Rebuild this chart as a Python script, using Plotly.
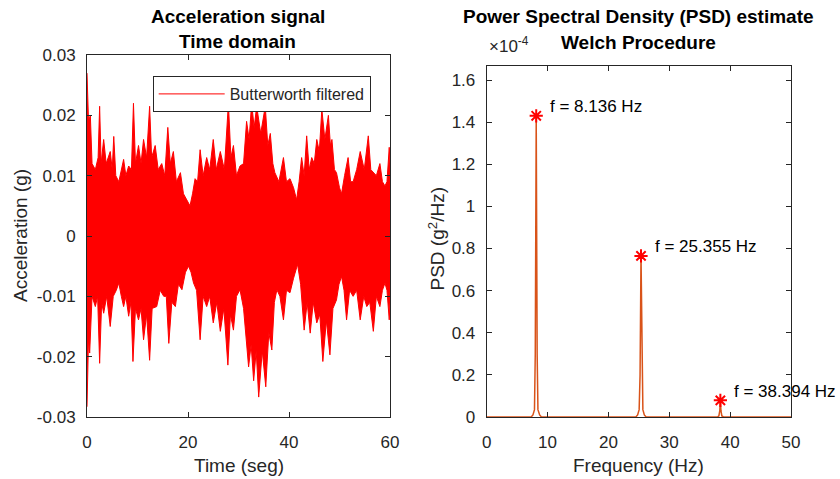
import plotly.graph_objects as go

# ---------------- data ----------------
# Time-domain signal: upper / lower envelope (peaks and dips) (s, g)
upper_env = [
    (0.0, 0.027), (0.3, 0.019), (0.66, 0.020), (1.0, 0.012), (1.65, 0.011), (2.2, 0.013),
    (2.5, 0.0215), (2.8, 0.012), (3.3, 0.016), (3.8, 0.012), (4.6, 0.014), (5.0, 0.011),
    (5.3, 0.0165), (5.7, 0.010), (6.3, 0.009), (6.8, 0.011), (7.25, 0.0127), (7.7, 0.010),
    (8.25, 0.0116), (8.8, 0.011), (9.2, 0.022), (9.6, 0.012), (10.2, 0.015), (10.7, 0.012),
    (11.2, 0.016), (11.8, 0.013), (12.4, 0.0215), (12.8, 0.013), (13.5, 0.015), (14.1, 0.011),
    (14.8, 0.012), (15.4, 0.010), (16.0, 0.018), (16.5, 0.012), (17.1, 0.014), (17.7, 0.009),
    (18.5, 0.0105), (19.1, 0.007), (19.8, 0.006), (20.4, 0.005), (20.9, 0.007), (21.4, 0.0095),
    (21.9, 0.009), (22.4, 0.0143), (23.0, 0.010), (23.7, 0.013), (24.3, 0.011), (25.0, 0.016),
    (25.6, 0.011), (26.4, 0.014), (27.2, 0.011), (28.0, 0.022), (28.5, 0.013), (29.0, 0.015),
    (29.6, 0.010), (30.3, 0.0116), (31.0, 0.012), (31.6, 0.019), (32.1, 0.016), (32.6, 0.022),
    (33.1, 0.018), (33.6, 0.0215), (34.4, 0.017), (35.3, 0.0215), (35.8, 0.015), (36.3, 0.017),
    (36.8, 0.012), (37.2, 0.0105), (38.0, 0.009), (38.9, 0.013), (39.5, 0.009), (40.2, 0.0095),
    (40.9, 0.008), (41.5, 0.006), (42.0, 0.009), (42.5, 0.013), (43.0, 0.010), (43.5, 0.0166),
    (44.0, 0.011), (44.5, 0.013), (45.0, 0.012), (45.5, 0.016), (46.0, 0.014), (46.5, 0.021),
    (47.1, 0.016), (47.8, 0.020), (48.2, 0.015), (48.5, 0.016), (49.0, 0.011), (49.4, 0.0105),
    (50.0, 0.008), (50.4, 0.007), (51.0, 0.010), (51.7, 0.013), (52.2, 0.009), (52.7, 0.009),
    (53.4, 0.011), (54.1, 0.014), (54.9, 0.011), (55.7, 0.0166), (56.2, 0.011), (56.7, 0.0105),
    (57.3, 0.010), (58.0, 0.012), (58.5, 0.009), (59.0, 0.0083), (59.4, 0.009), (59.85, 0.0147),
    (60.0, 0.012),
]
lower_env = [
    (0.0, -0.0283), (0.3, -0.017), (0.53, -0.0194), (1.0, -0.010), (1.65, -0.0117), (2.1, -0.010),
    (2.5, -0.0211), (2.9, -0.011), (3.3, -0.0128), (3.9, -0.010), (4.6, -0.015), (5.2, -0.010),
    (5.8, -0.009), (6.3, -0.0078), (6.8, -0.010), (7.25, -0.0117), (7.7, -0.010), (8.25, -0.0133),
    (8.7, -0.011), (9.1, -0.0208), (9.6, -0.012), (10.2, -0.0139), (10.7, -0.012), (11.2, -0.0172),
    (11.8, -0.013), (12.4, -0.0206), (12.9, -0.012), (13.8, -0.0117), (14.5, -0.009), (15.2, -0.010),
    (15.7, -0.010), (16.2, -0.0178), (16.8, -0.011), (17.5, -0.0117), (18.1, -0.008), (18.8, -0.0089),
    (19.5, -0.006), (20.1, -0.005), (20.6, -0.006), (21.1, -0.0078), (21.7, -0.009), (22.4, -0.0172),
    (23.0, -0.010), (23.7, -0.0117), (24.3, -0.010), (25.0, -0.0144), (25.7, -0.011), (26.4, -0.0158),
    (27.1, -0.012), (27.9, -0.0214), (28.4, -0.013), (29.0, -0.0156), (29.6, -0.010), (30.3, -0.0089),
    (31.0, -0.012), (32.0, -0.0217), (32.5, -0.018), (33.0, -0.024), (33.5, -0.019), (34.0, -0.0267),
    (34.7, -0.019), (35.4, -0.025), (36.0, -0.016), (36.6, -0.0189), (37.1, -0.011), (37.6, -0.0089),
    (38.2, -0.010), (38.9, -0.0139), (39.5, -0.009), (40.2, -0.0094), (40.9, -0.007), (41.7, -0.0047),
    (42.3, -0.008), (43.0, -0.0156), (43.6, -0.011), (44.2, -0.0161), (44.8, -0.011), (45.5, -0.0144),
    (46.1, -0.013), (46.7, -0.0208), (47.4, -0.014), (48.1, -0.0197), (48.7, -0.012), (49.4, -0.0106),
    (49.9, -0.008), (50.4, -0.0067), (50.9, -0.009), (51.4, -0.0139), (52.0, -0.009), (52.7, -0.010),
    (53.4, -0.009), (54.1, -0.0139), (54.8, -0.010), (55.4, -0.0117), (56.0, -0.011), (56.7, -0.0158),
    (57.3, -0.010), (58.0, -0.0117), (58.5, -0.009), (59.0, -0.0078), (59.4, -0.009), (59.85, -0.0139),
    (60.0, -0.011),
]
upper_t = [p[0] for p in upper_env]
upper_v = [p[1] for p in upper_env]
lower_t = [p[0] for p in lower_env]
lower_v = [p[1] for p in lower_env]

# PSD (Welch) estimate, g^2/Hz
psd_freq = [0, 7.3, 7.6, 7.85, 7.98, 8.136, 8.29, 8.42, 8.7, 9.0,
            24.5, 24.8, 25.05, 25.2, 25.355, 25.51, 25.66, 25.9, 26.2,
            37.9, 38.15, 38.3, 38.394, 38.49, 38.64, 38.9, 50]
psd_val = [0, 0, 0.01e-4, 0.035e-4, 0.3e-4, 1.43e-4, 0.3e-4, 0.035e-4, 0.01e-4, 0,
           0, 0.01e-4, 0.035e-4, 0.2e-4, 0.765e-4, 0.2e-4, 0.035e-4, 0.01e-4, 0,
           0, 0.005e-4, 0.03e-4, 0.079e-4, 0.03e-4, 0.005e-4, 0, 0]
peak_freq = [8.136, 25.355, 38.394]
peak_val = [1.43e-4, 0.765e-4, 0.079e-4]

left_xticks = [0, 20, 40, 60]
left_yticks = [-0.03, -0.02, -0.01, 0, 0.01, 0.02, 0.03]
left_yticktext = ["-0.03", "-0.02", "-0.01", "0", "0.01", "0.02", "0.03"]
right_xticks = [0, 10, 20, 30, 40, 50]
right_yticks = [0, 0.2e-4, 0.4e-4, 0.6e-4, 0.8e-4, 1.0e-4, 1.2e-4, 1.4e-4, 1.6e-4]
right_yticktext = ["0", "0.2", "0.4", "0.6", "0.8", "1", "1.2", "1.4", "1.6"]

# ---------------- figure ----------------
W, H = 840, 479
FONT = "Liberation Sans, Arial, sans-serif"
AX = "#262626"


def px(x):
    return x / W


def py(y):
    return 1 - y / H


fig = go.Figure()

fig.add_trace(go.Scatter(x=upper_t, y=upper_v, mode="lines", name="Butterworth filtered",
                         line=dict(color="#FF0000", width=1), xaxis="x", yaxis="y"))
fig.add_trace(go.Scatter(x=lower_t, y=lower_v, mode="lines", showlegend=False,
                         fill="tonexty", fillcolor="#FF0000",
                         line=dict(color="#FF0000", width=1), xaxis="x", yaxis="y"))

fig.add_trace(go.Scatter(x=psd_freq, y=psd_val, mode="lines", showlegend=False,
                         line=dict(color="#D95319", width=1.5), xaxis="x2", yaxis="y2"))
fig.add_trace(go.Scatter(x=peak_freq, y=peak_val, mode="markers", showlegend=False,
                         marker=dict(symbol="asterisk-open", size=11, color="#FF0000",
                                     line=dict(color="#FF0000", width=2)),
                         xaxis="x2", yaxis="y2"))

axis_common = dict(showline=True, linecolor=AX, linewidth=1, mirror="allticks",
                   ticks="inside", ticklen=5, tickcolor=AX, showgrid=False, zeroline=False,
                   automargin=False,
                   tickfont=dict(family=FONT, size=17, color=AX))

fig.update_layout(
    width=W, height=H,
    margin=dict(l=0, r=0, t=0, b=0, autoexpand=False),
    paper_bgcolor="white", plot_bgcolor="white",
    xaxis=dict(domain=[px(87), px(390)], range=[0, 60], tickvals=left_xticks,
               anchor="y", ticklabelstandoff=10, **axis_common),
    yaxis=dict(domain=[py(417), py(55)], range=[-0.03, 0.03], tickvals=left_yticks,
               ticktext=left_yticktext, anchor="x", ticklabelstandoff=7, **axis_common),
    xaxis2=dict(domain=[px(486.7), px(791)], range=[0, 50], tickvals=right_xticks,
                anchor="y2", ticklabelstandoff=10, **axis_common),
    yaxis2=dict(domain=[py(417), py(65.7)], range=[0, 1.668e-4], tickvals=right_yticks,
                ticktext=right_yticktext, anchor="x2", ticklabelstandoff=7, **axis_common),
    showlegend=True,
    legend=dict(x=px(152.7), y=py(76), xanchor="left", yanchor="top",
                bgcolor="white", bordercolor=AX, borderwidth=1, itemwidth=66,
                font=dict(family=FONT, size=16, color=AX)),
)

ann = []


def text_ann(t, x, y, size, bold=False, angle=0, xanchor="center", color=AX):
    ann.append(dict(text=(f"<b>{t}</b>" if bold else t), x=px(x), y=py(y), xref="paper",
                    yref="paper", showarrow=False, xanchor=xanchor, yanchor="middle",
                    textangle=angle, font=dict(family=FONT, size=size, color=color)))


text_ann("Acceleration signal", 237.5, 16.7, 19, bold=True, color="black")
text_ann("Time domain", 237.5, 41.7, 19, bold=True, color="black")
text_ann("Power Spectral Density (PSD) estimate", 638.5, 16.7, 19, bold=True, color="black")
text_ann("Welch Procedure", 638.5, 42.7, 19, bold=True, color="black")
text_ann("×10<sup>-4</sup>", 487, 45, 17, xanchor="left")
text_ann("Acceleration (g)", 20, 236, 19, angle=-90)
text_ann("PSD (g<sup>2</sup>/Hz)", 436.5, 239, 19, angle=-90)
text_ann("Time (seg)", 238.5, 465, 19)
text_ann("Frequency (Hz)", 638.9, 465, 19)

for f, v in zip(peak_freq, peak_val):
    ann.append(dict(text=f"f = {f:.3f} Hz", x=f, y=v, xref="x2", yref="y2", showarrow=False,
                    xanchor="left", yanchor="middle", xshift=12, yshift=9,
                    font=dict(family=FONT, size=17, color="black")))

fig.update_layout(annotations=ann)

fig.write_html("out.html")
